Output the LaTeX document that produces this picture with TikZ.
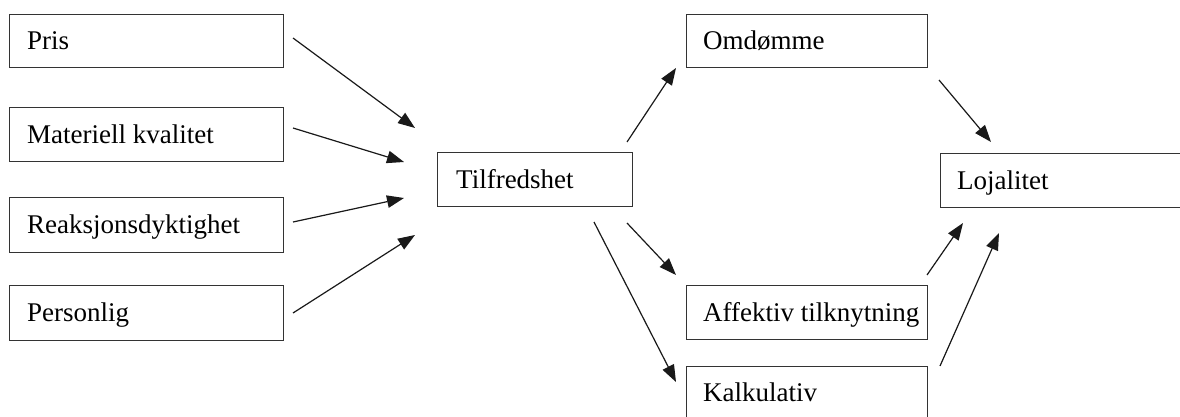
\documentclass[tikz,border=0pt]{standalone}
\usepackage{fontspec}
\setmainfont{Liberation Serif}
\usetikzlibrary{arrows.meta}
\begin{document}
\begin{tikzpicture}[x=1pt,y=-1pt,
  box/.style={draw=black!80, line width=1pt, rectangle, anchor=north west, inner sep=0pt},
  lbl/.style={anchor=west, inner sep=0pt, font=\fontsize{27}{32}\selectfont,
    text height=17.8pt, text depth=0pt},
  arr/.style={draw=black!90, line width=1.2pt, -{Triangle[length=17pt,width=12.5pt]}}]
\useasboundingbox (0,0) rectangle (1180,417);
\clip (0,0) rectangle (1180,417);
\fill[white] (0,0) rectangle (1180,417);
% left column
\node[box, minimum width=274pt, minimum height=53pt] (pris) at (9,14) {};
\node[box, minimum width=274pt, minimum height=54pt] (mat) at (9,107) {};
\node[box, minimum width=274pt, minimum height=55pt] (reak) at (9,197) {};
\node[box, minimum width=274pt, minimum height=55pt] (pers) at (9,285) {};
% centre
\node[box, minimum width=195pt, minimum height=54pt] (tilf) at (437,152) {};
% mediators
\node[box, minimum width=241pt, minimum height=53pt] (omd) at (686,14) {};
\node[box, minimum width=241pt, minimum height=54pt] (aff) at (686,285) {};
\node[box, minimum width=241pt, minimum height=53pt] (kalk) at (686,366) {};
% outcome
\node[box, minimum width=260pt, minimum height=54pt] (loj) at (940,153) {};
% labels
\node[lbl] (tpris) at ([xshift=18pt]pris.west) {Pris};
\node[lbl] (tmat) at ([xshift=18pt]mat.west) {Materiell kvalitet};
\node[lbl] (treak) at ([xshift=18pt]reak.west) {Reaksjonsdyktighet};
\node[lbl] (tpers) at ([xshift=18pt]pers.west) {Personlig};
\node[lbl] (ttilf) at ([xshift=19pt]tilf.west) {Tilfredshet};
\node[lbl] (tomd) at ([xshift=17pt]omd.west) {Omdømme};
\node[lbl] (taff) at ([xshift=17pt]aff.west) {Affektiv tilknytning};
\node[lbl] (tkalk) at ([xshift=17pt]kalk.west) {Kalkulativ};
\node[lbl] (tloj) at ([xshift=17pt]loj.west) {Lojalitet};
% arrow end points
\coordinate (p1) at (293,38);  \coordinate (t1) at (415,128);
\coordinate (p2) at (293,128); \coordinate (t2) at (404,162);
\coordinate (p3) at (293,222); \coordinate (t3) at (404,198);
\coordinate (p4) at (293,313); \coordinate (t4) at (415,235);
\coordinate (s1) at (627,142); \coordinate (e1) at (676,68);
\coordinate (s2) at (627,223); \coordinate (e2) at (676,275);
\coordinate (s3) at (594,222); \coordinate (e3) at (676,382);
\coordinate (o1) at (939,80);  \coordinate (l1) at (991,142);
\coordinate (o2) at (927,275); \coordinate (l2) at (963,223);
\coordinate (o3) at (940,366); \coordinate (l3) at (999,233);
\draw[arr] (p1) -- (t1);
\draw[arr] (p2) -- (t2);
\draw[arr] (p3) -- (t3);
\draw[arr] (p4) -- (t4);
\draw[arr] (s1) -- (e1);
\draw[arr] (s2) -- (e2);
\draw[arr] (s3) -- (e3);
\draw[arr] (o1) -- (l1);
\draw[arr] (o2) -- (l2);
\draw[arr] (o3) -- (l3);
\end{tikzpicture}
\end{document}
